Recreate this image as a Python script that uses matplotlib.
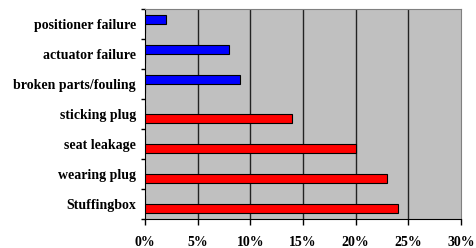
import numpy as np
import matplotlib.pyplot as plt

# categories from bottom to top
categories = ["Stuffingbox", "wearing plug", "seat leakage", "sticking plug",
              "broken parts/fouling", "actuator failure", "positioner failure"]
red_values = [24, 23, 20, 14, 0, 0, 0]
blue_values = [0, 0, 0, 0, 9, 8, 2]
x_ticks = [0, 5, 10, 15, 20, 25, 30]
x_labels = ["0%", "5%", "10%", "15%", "20%", "25%", "30%"]

fig = plt.figure(figsize=(4.77, 2.48), dpi=100)
ax = fig.add_axes([0.304, 0.117, 0.6625, 0.847])
ax.set_facecolor("#C0C0C0")

y = np.arange(len(categories))
h = 0.29
ax.barh(y - h / 2, red_values, height=h, color="#FF0000", edgecolor="black", linewidth=0.8, zorder=3)
ax.barh(y + h / 2, blue_values, height=h, color="#0000FF", edgecolor="black", linewidth=0.8, zorder=3)

ax.set_xlim(0, 30)
ax.set_ylim(-0.5, len(categories) - 0.5)
ax.set_xticks(x_ticks)
ax.set_xticklabels(x_labels)
for v in x_ticks[1:-1]:
    ax.axvline(v, color="#222222", lw=1.0, zorder=1)

ax.set_yticks(y)
ax.set_yticklabels(categories)
ax.set_yticks(np.arange(len(categories) + 1) - 0.5, minor=True)
ax.tick_params(axis="y", which="major", length=0, pad=6.5)
ax.tick_params(axis="y", which="minor", length=3, width=1, direction="out")
ax.tick_params(axis="x", length=4, width=1, direction="out", pad=8)

for lab in ax.get_xticklabels() + ax.get_yticklabels():
    lab.set_fontfamily("Liberation Serif")
    lab.set_fontweight("bold")
    lab.set_fontsize(10)

ax.spines["left"].set_color("black")
ax.spines["bottom"].set_color("black")
ax.spines["top"].set_color("#808080")
ax.spines["right"].set_color("#808080")

plt.savefig("out.png", dpi=100)
